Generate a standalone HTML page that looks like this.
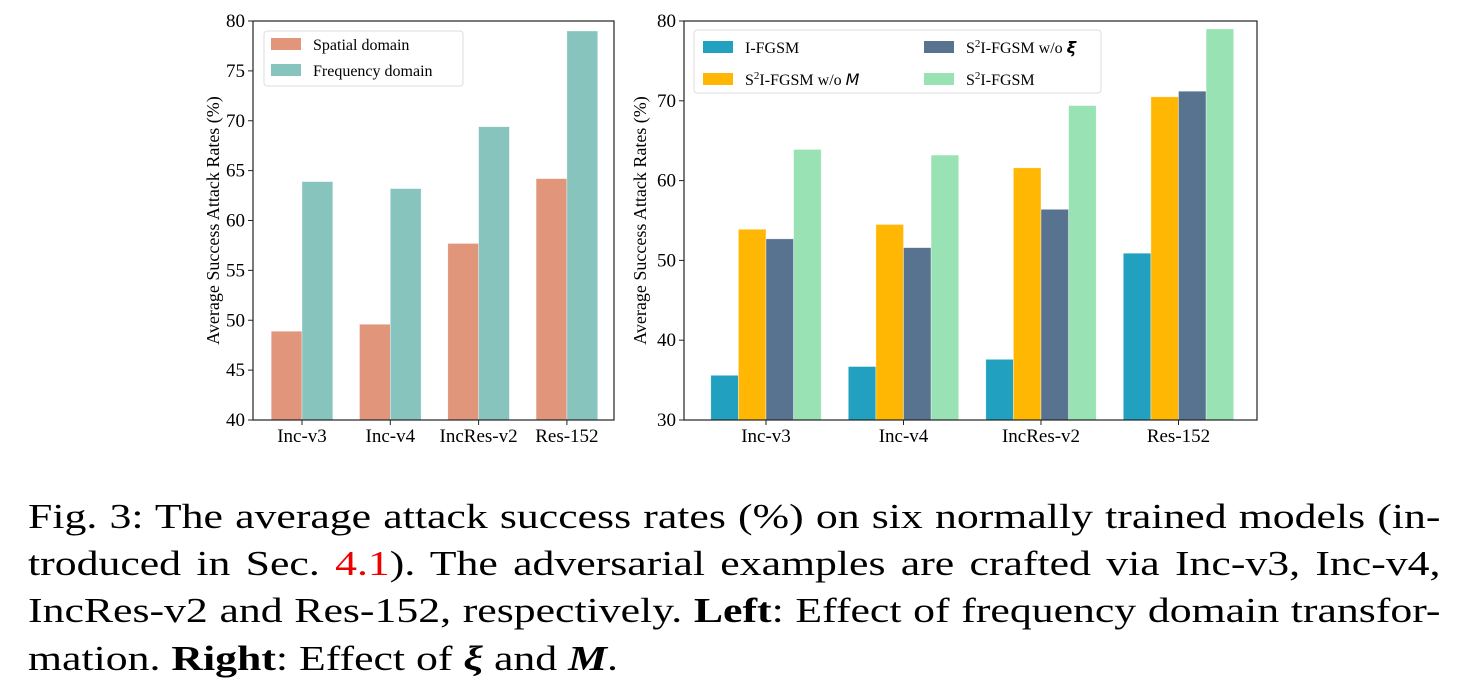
<!DOCTYPE html>
<html><head><meta charset="utf-8"><style>
body{margin:0;width:1463px;height:696px;background:#fff;overflow:hidden;position:relative;font-family:"Liberation Serif",serif}
svg{position:absolute;left:0;top:0}
.cap{position:absolute;left:28px;width:1130px;font-size:35px;line-height:35px;text-align:justify;text-align-last:justify;white-space:nowrap;color:#000;transform:scaleX(1.25);transform-origin:0 0}
.cap.last{text-align-last:left}
</style></head><body>
<svg id="chart" width="1463" height="470"></svg>
<div class="cap" style="top:499px">Fig. 3: The average attack success rates (%) on six normally trained models (in-</div>
<div class="cap" style="top:546px">troduced in Sec. <span style="color:#e00">4.1</span>). The adversarial examples are crafted via Inc-v3, Inc-v4,</div>
<div class="cap" style="top:593px">IncRes-v2 and Res-152, respectively. <b>Left</b>: Effect of frequency domain transfor-</div>
<div class="cap last" style="top:641px">mation. <b>Right</b>: Effect of <b><i>ξ</i></b> and <b><i>M</i></b>.</div>
<script>
const categories=["Inc-v3","Inc-v4","IncRes-v2","Res-152"];
const leftSpatial=[48.9,49.6,57.7,64.2];
const leftFrequency=[63.9,63.2,69.4,79.0];
const leftTicks=[40,45,50,55,60,65,70,75,80];
const rightIFGSM=[35.6,36.7,37.6,50.9];
const rightNoM=[53.9,54.5,61.6,70.5];
const rightNoXi=[52.7,51.6,56.4,71.2];
const rightFull=[63.9,63.2,69.4,79.0];
const rightTicks=[30,40,50,60,70,80];

const NS="http://www.w3.org/2000/svg";
const svg=document.getElementById('chart');
function mk(tag,attrs,parent){const e=document.createElementNS(NS,tag);for(const k in attrs)e.setAttribute(k,attrs[k]);(parent||svg).appendChild(e);return e;}

function drawChart(cfg){
  const g=mk('g',{});
  
  
  const y=v=>cfg.bottom-(v-cfg.ymin)/(cfg.ymax-cfg.ymin)*(cfg.bottom-cfg.top);
  const cx=i=>cfg.c0+i*cfg.step;
  const n=cfg.series.length;
  cfg.series.forEach((s,si)=>{
    s.values.forEach((v,i)=>{
      const x=cx(i)-n*cfg.bw/2+si*cfg.bw;
      const r=mk('rect',{x:x,y:y(v),width:cfg.bw,height:cfg.bottom-y(v),fill:s.color,stroke:'rgba(255,255,255,0.6)','stroke-width':0.6},g);
      
      
    });
  });
  const frame=mk('rect',{x:cfg.left,y:cfg.top,width:cfg.right-cfg.left,height:cfg.bottom-cfg.top,fill:'none',stroke:'#222','stroke-width':1.2},g);
  
  
  cfg.ticks.forEach(t=>{
    mk('line',{x1:cfg.left-5,x2:cfg.left,y1:y(t),y2:y(t),stroke:'#222','stroke-width':1},g);
    const tx=mk('text',{x:cfg.left-8,y:y(t)+6,'text-anchor':'end','font-size':19,'font-family':'Liberation Serif, serif'},g);
    tx.textContent=t;
    
    
  });
  categories.forEach((c,i)=>{
    mk('line',{x1:cx(i),x2:cx(i),y1:cfg.bottom,y2:cfg.bottom+5,stroke:'#222','stroke-width':1},g);
    const tx=mk('text',{x:cx(i),y:cfg.bottom+22,'text-anchor':'middle','font-size':19,'font-family':'Liberation Serif, serif'},g);
    tx.textContent=c;
    
    
  });
  const yl=mk('text',{x:0,y:0,transform:`translate(${cfg.ylx},${(cfg.top+cfg.bottom)/2}) rotate(-90)`,'text-anchor':'middle','font-size':18,'font-family':'Liberation Serif, serif'},g);
  yl.textContent='Average Success Attack Rates (%)';
  
  
  const L=cfg.legend;
  const lb=mk('rect',{x:L.x,y:L.y,width:L.w,height:L.h,rx:3,fill:'#fff',stroke:'#ddd','stroke-width':1},g);
  
  
  cfg.series.forEach((s,si)=>{
    const p=L.pos[si];
    mk('rect',{x:p[0],y:p[1]-6,width:30,height:12,fill:s.color},g);
    const t=mk('text',{x:p[0]+42,y:p[1]+6,'font-size':16,'font-family':'Liberation Serif, serif'},g);
    t.innerHTML=s.label;
    
    
  });
}

drawChart({name:'left-chart',left:253,right:614,top:21,bottom:420,ymin:40,ymax:80,ticks:leftTicks,c0:302,step:88.3,bw:30.8,ylx:219,
  series:[{key:'spatial',label:'Spatial domain',color:'#e1957b',values:leftSpatial},
          {key:'frequency',label:'Frequency domain',color:'#86c4bd',values:leftFrequency}],
  legend:{x:264,y:31,w:199,h:55,pos:[[271,44],[271,70]]}});

drawChart({name:'right-chart',left:684,right:1257,top:21,bottom:420,ymin:30,ymax:80,ticks:rightTicks,c0:766,step:137.5,bw:27.6,ylx:646,
  series:[{key:'i-fgsm',label:'I-FGSM',color:'#22a0bf',values:rightIFGSM},
          {key:'s2i-fgsm-no-m',label:'S<tspan baseline-shift="super" font-size="11">2</tspan>I-FGSM w/o <tspan font-style="italic" font-family="DejaVu Sans, sans-serif">M</tspan>',color:'#ffb703',values:rightNoM},
          {key:'s2i-fgsm-no-xi',label:'S<tspan baseline-shift="super" font-size="11">2</tspan>I-FGSM w/o <tspan font-style="italic" font-weight="bold" font-family="DejaVu Sans, sans-serif">ξ</tspan>',color:'#57738f',values:rightNoXi},
          {key:'s2i-fgsm',label:'S<tspan baseline-shift="super" font-size="11">2</tspan>I-FGSM',color:'#99e2b4',values:rightFull}],
  legend:{x:694,y:30,w:407,h:63,pos:[[703,47],[703,79],[924,47],[924,79]]}});
</script>
</body></html>
